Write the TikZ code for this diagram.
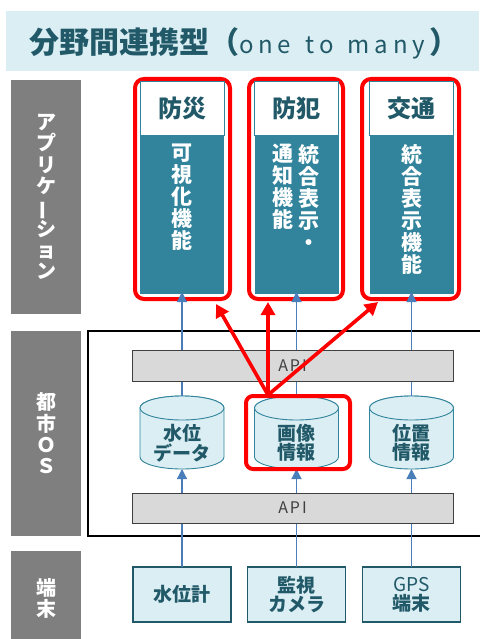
\documentclass[tikz,border=0pt]{standalone}
\usepackage{fontspec}
\setmainfont{Noto Sans CJK JP}
\newfontfamily\jp{Noto Sans CJK JP}
\newfontfamily\jpls{Noto Sans CJK JP}[LetterSpace=20, WordSpace=1.4]
\newfontfamily\apif{Noto Sans CJK JP}[LetterSpace=12]
\usetikzlibrary{arrows.meta,calc}
\definecolor{band}{HTML}{DAEEF3}
\definecolor{dteal}{HTML}{215968}
\definecolor{teal2}{HTML}{31849B}
\definecolor{sidegray}{HTML}{7F7F7F}
\definecolor{apigray}{HTML}{D9D9D9}
\definecolor{lineblue}{HTML}{4A7EBB}
\definecolor{txtgray}{HTML}{404040}
\newcommand\tatebar{\rotatebox[origin=c]{90}{ー}}
\begin{document}
\begin{tikzpicture}[x=1pt,y=-1pt,
  box/.style={inner sep=0pt, outer sep=0pt},
  sidebox/.style={box, fill=sidegray, text=white, align=center, minimum width=70pt, anchor=north west, font=\jp\fontsize{20}{21.3}\selectfont\bfseries},
  redframe/.style={box, draw=red, line width=4pt, rounded corners=9pt, fill=white, minimum height=220pt},
  hdr/.style={box, fill=white, draw=teal2, line width=0.8pt, text=dteal, minimum width=84pt, minimum height=54pt, font=\jp\fontsize{24}{26}\selectfont\bfseries},
  bodybox/.style={box, fill=teal2, minimum width=84pt, minimum height=159pt},
  btext/.style={inner sep=0pt, text=white, align=center, anchor=north, font=\jp\fontsize{21}{22}\selectfont\bfseries},
  blueline/.style={draw=lineblue, line width=1.2pt, -{Triangle[length=10pt,width=10pt]}},
  cylfill/.style={fill=band, draw=teal2, line width=0.9pt},
  cylnode/.style={box, minimum width=84pt, minimum height=73pt},
  cyltext/.style={inner sep=0pt, text=dteal, align=center, font=\jp\fontsize{19}{16.5}\selectfont\bfseries},
  apibar/.style={box, fill=apigray, draw=txtgray, line width=1pt, minimum width=321pt, text=txtgray, font=\apif\fontsize{16}{18}\selectfont},
  term/.style={box, fill=band, draw=dteal, line width=1.2pt, text=dteal, align=center, minimum width=98pt, minimum height=55pt, font=\jp\fontsize{19}{19}\selectfont\bfseries},
  redarrow/.style={draw=red, line width=3.6pt, -{Triangle[length=13pt,width=14pt]}},
  hilite/.style={box, draw=red, line width=4pt, rounded corners=7pt, minimum width=104pt, minimum height=73pt}
]
\useasboundingbox (0,0) rectangle (479,639);
% title
\node[box, fill=band, minimum width=473pt, minimum height=60pt, anchor=north west] (band) at (6,11) {};
\node[text=dteal, inner sep=0pt, anchor=west, font=\jp\fontsize{30}{32}\selectfont] (title) at (29,43)
  {\textbf{分野間連携型（}{\jpls\fontsize{24}{30}\selectfont one to many}\textbf{）}};
% side labels
\node[sidebox, minimum height=234pt] (sapp) at (11,80) {ア\\プ\\リ\\ケ\\\tatebar\\シ\\ョ\\ン};
\node[sidebox, minimum height=205pt] (sos) at (11,331) {都\\市\\Ｏ\\Ｓ};
\node[sidebox, minimum height=95pt] (sterm) at (11,551) {端\\末};
% OS box
\node[box, draw=black, line width=2pt, minimum width=430pt, minimum height=205pt, anchor=north west] (os) at (88,331) {};
% application columns
\node[redframe, minimum width=95pt] (fr1) at (182.5,189) {};
\node[redframe, minimum width=94pt] (fr2) at (296,189) {};
\node[redframe, minimum width=97pt] (fr3) at (410.5,189) {};
\node[hdr] (h1) at (182,108) {防災};
\node[hdr] (h2) at (296.5,108) {防犯};
\node[hdr] (h3) at (411.5,108) {交通};
\node[bodybox] (b1) at (182,214.5) {};
\node[bodybox] (b2) at (296.5,214.5) {};
\node[bodybox] (b3) at (411.5,214.5) {};
\node[btext] (bt1) at (182,144) {可\\視\\化\\機\\能};
\node[btext] (bt2a) at (309,144) {統\\合\\表\\示\\・};
\node[btext] (bt2b) at (283,144) {通\\知\\機\\能};
\node[btext] (bt3) at (411.5,144) {統\\合\\表\\示\\機\\能};
% cylinders
\foreach \cx in {182,296.5,411.5} {
  \filldraw[cylfill] (\cx-42,408) -- (\cx-42,457) arc (180:0:42 and 12) -- (\cx+42,408) arc (0:-180:42 and 12) -- cycle;
  \draw[cylfill] (\cx,408) ellipse (42 and 12);
}
\node[cylnode] (c1) at (182,432.5) {};
\node[cylnode] (c2) at (296.5,432.5) {};
\node[cylnode] (c3) at (411.5,432.5) {};
\node[cyltext] (ct1) at (182,443) {水位\\データ};
\node[cyltext] (ct2) at (296.5,443) {画像\\情報};
\node[cyltext] (ct3) at (411.5,443) {位置\\情報};
% terminals
\node[term] (t1) at (182,594.5) {水位計};
\node[term] (t2) at (296.5,594.5) {監視\\カメラ};
\node[term] (t3) at (411.5,594.5) {{\mdseries GPS}\\端末};
% blue connectors
\foreach \i in {1,2,3} {
  \draw[blueline] (t\i.north) -- (c\i.south);
  \draw[blueline, shorten >=-2pt] (c\i.north) -- (b\i.south);
}
% API bars
\node[apibar, minimum height=31pt] (api1) at (292.5,365.5) {API};
\node[apibar, minimum height=30pt] (api2) at (292.5,508) {API};
% highlight and red arrows
\node[hilite] (hl) at (298,432.5) {};
\coordinate (hub) at (268,395);
\coordinate (tip1) at (216,304);
\coordinate (tip2) at (268,302);
\coordinate (tip3) at (378,302);
\draw[redarrow] (hub) -- (tip1);
\draw[redarrow] (hub) -- (tip2);
\draw[redarrow] (hub) -- (tip3);
\end{tikzpicture}
\end{document}
